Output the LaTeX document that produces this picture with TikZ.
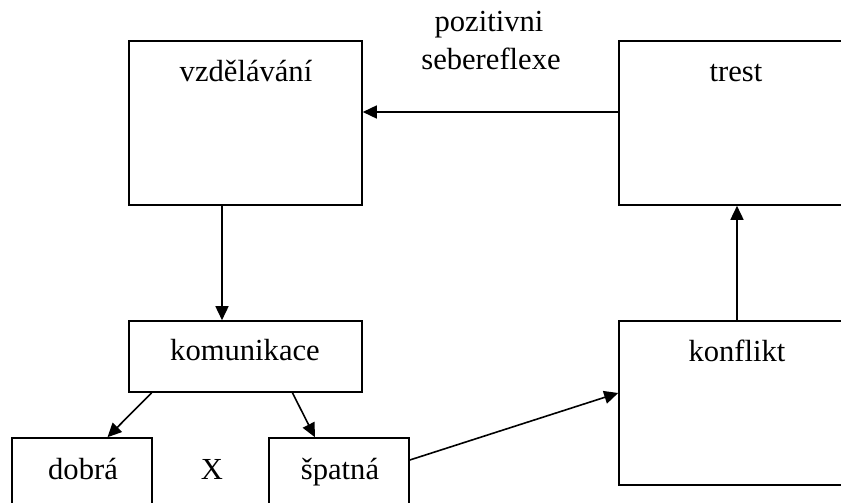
\documentclass[tikz,border=0pt]{standalone}
\usepackage{fontspec}
\setmainfont{Liberation Serif}
\usetikzlibrary{fit, calc, arrows.meta}

\begin{document}
\begin{tikzpicture}[
        > = {Triangle[length=7pt,width=6.5pt]}, % arrow head style
        x = 0.5pt, y = -0.5pt, % work on the pixel grid
        line width = 0.8pt % line style
    ]

    \tikzstyle{box}=[
    draw = black,
    rectangle,
    inner sep = 0pt
    ]
    \tikzstyle{word}=[
    anchor = base,
    inner sep = 0pt,
    font = \fontsize{15.3}{18.5}\selectfont
    ]

    \useasboundingbox (0,0) rectangle (841,503);

    % boxes
    \node[box, fit={(129,41) (362,205)}] (vzd) {};
    \node[box, fit={(619,41) (855,205)}] (trest) {};
    \node[box, fit={(129,321) (362,392)}] (kom) {};
    \node[box, fit={(619,321) (855,485)}] (konf) {};
    \node[box, fit={(12,438) (152,510)}] (dobra) {};
    \node[box, fit={(269,438) (409,510)}] (spatna) {};

    % texts
    \node[word] (vzdtext) at (246,81) {vzdělávání};
    \node[word] (trestext) at (736,81) {trest};
    \node[word] (komtext) at (245,360) {komunikace};
    \node[word] (konftext) at (737,361) {konflikt};
    \node[word] (dobratext) at (83,479) {dobrá};
    \node[word] (spatnatext) at (340,479) {špatná};
    \node[word] (x) at (212,479) {X};
    \node[word] (poz) at (489,32) {pozitivni};
    \node[word] (seb) at (491,69) {sebereflexe};

    % arrow heights
    \coordinate (top) at (0,112);
    \coordinate (down) at (222,0);
    \coordinate (up) at (737,0);
    \coordinate (out) at (0,460);
    \coordinate (in) at (0,393);

    \draw[->] (trest.west |- top) -- (vzd.east |- top);
    \draw[->] (vzd.south -| down) -- (kom.north -| down);
    \draw[->] ($(kom.south west)!0.1!(kom.south east)$) -- ($(dobra.north west)!0.68!(dobra.north east)$);
    \draw[->] ($(kom.south west)!0.7!(kom.south east)$) -- ($(spatna.north west)!0.33!(spatna.north east)$);
    \draw[->] (spatna.east |- out) -- (konf.west |- in);
    \draw[->] (konf.north -| up) -- (trest.south -| up);
\end{tikzpicture}
\end{document}
